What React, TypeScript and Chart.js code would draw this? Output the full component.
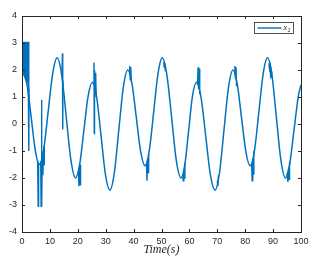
import React, { useEffect, useRef } from "react";
import { Chart, registerables } from "chart.js";

Chart.register(...registerables);

const seriesLabel = "x2";
const xTicks = [0, 10, 20, 30, 40, 50, 60, 70, 80, 90, 100];
const yTicks = [-4, -3, -2, -1, 0, 1, 2, 3, 4];

const mainT = [0.5, 1.9, 3.35, 4.8, 6.2, 7.8, 9.4, 11.0, 12.6, 14.25, 15.9, 17.55, 19.2, 20.7, 22.2, 23.7, 25.2, 26.8, 28.35, 29.9, 31.5, 33.1, 34.7, 36.3, 37.9, 39.45, 41.0, 42.55, 44.1, 45.65, 47.2, 48.75, 50.3, 51.95, 53.65, 55.3, 57.0, 58.4, 59.75, 61.1, 62.5, 64.2, 65.85, 67.5, 69.2, 70.8, 72.4, 74.0, 75.6, 77.15, 78.7, 80.25, 81.8, 83.35, 84.9, 86.45, 88.0, 89.6, 91.2, 92.8, 94.4, 95.95, 97.5, 99.05, 100];
const mainV = [1.9, 1.4, 0.2, -1.0, -1.5, -0.92, 0.48, 1.87, 2.45, 1.8, 0.22, -1.35, -2.0, -1.48, -0.22, 1.03, 1.55, 0.97, -0.45, -1.87, -2.45, -1.8, -0.22, 1.35, 2.0, 1.48, 0.22, -1.03, -1.55, -0.97, 0.45, 1.87, 2.45, 1.8, 0.22, -1.35, -2.0, -1.48, -0.22, 1.03, 1.55, 0.97, -0.45, -1.87, -2.45, -1.8, -0.22, 1.35, 2.0, 1.48, 0.22, -1.03, -1.55, -0.97, 0.45, 1.87, 2.45, 1.8, 0.22, -1.35, -2.0, -1.48, -0.22, 1.03, 1.45];

// chattering bursts; null separates bursts
const chatterT = [
  0, 0, 0.05, 0.3, 0.45, 0.7, 0.85, 1.1, 1.25, 1.5, 1.65, 1.9, 2.05, 2.25, 2.35, 2.45, 2.5, 2.55, 2.55,
  5.6, 5.8, 5.95, 5.95,
  6.7, 6.85, 7.0, 7.1, 7.25, 7.5, 7.7, 7.9, 8.0, 8.0,
  14.3, 14.5, 14.6, 14.7, 14.7,
  20.2, 20.4, 20.6, 20.8, 21.0, 21.0,
  25.6, 25.8, 25.9, 26.0, 26.2, 26.4, 26.6, 26.6,
  38.4, 38.6, 38.8, 39.0, 39.2, 39.2,
  44.6, 44.8, 45.0, 45.2, 45.4, 45.4,
  50.8, 51.0, 51.2, 51.4, 51.4,
  57.6, 57.8, 58.0, 58.2, 58.4, 58.4,
  62.9, 63.1, 63.3, 63.5, 63.7, 63.7,
  70.0, 70.2, 70.4, 70.4,
  76.1, 76.3, 76.5, 76.7, 76.9, 76.9,
  82.3, 82.5, 82.7, 82.9, 83.1, 83.1,
  88.5, 88.7, 88.9, 89.1, 89.3, 89.5, 89.5,
  95.0, 95.3, 95.5, 95.7, 95.9,
];
const chatterV = [
  0, -2.9, 3.05, 1.85, 3.05, 1.8, 3.05, 1.75, 3.05, 1.65, 3.05, 1.55, 3.05, 1.45, 3.05, 1.35, -1.0, 1.3, null,
  -1.35, -3.05, -1.45, null,
  -1.4, -3.05, 0.9, -3.05, -1.2, -1.9, -1.0, -1.5, -0.8, null,
  1.85, 2.62, -0.2, 1.6, null,
  -1.75, -2.3, -1.6, -2.25, -1.5, null,
  1.45, 2.28, -0.35, 2.0, 1.2, 1.9, 1.0, null,
  1.85, 2.15, 1.65, 2.1, 1.55, null,
  -1.45, -2.1, -1.3, -1.8, -1.1, null,
  2.3, 2.1, 2.25, 1.95, null,
  -1.85, -2.1, -1.7, -2.0, -1.45, null,
  1.45, 2.1, 1.3, 2.05, 1.1, null,
  -2.1, -2.3, -1.9, null,
  1.85, 2.15, 1.7, 2.1, 1.4, null,
  -1.45, -2.1, -1.3, -1.85, -1.0, null,
  2.25, 2.05, 2.15, 1.85, 1.95, 1.7, null,
  -1.8, -2.15, -1.65, -2.05, -1.4,
];

const LINE = "#0072BD";
const AX = "#262626";

const framePlugin = {
  id: "frame",
  afterDraw(chart: any) {
    const { ctx, chartArea: a, scales } = chart;
    const xs = scales.x, ys = scales.y;
    ctx.save();
    ctx.strokeStyle = AX;
    ctx.lineWidth = 1;
    ctx.strokeRect(a.left + 0.5, a.top + 0.5, a.right - a.left, a.bottom - a.top);
    const tl = 3;
    ctx.beginPath();
    xTicks.forEach((v) => {
      const p = Math.round(xs.getPixelForValue(v)) + 0.5;
      ctx.moveTo(p, a.bottom); ctx.lineTo(p, a.bottom - tl);
      ctx.moveTo(p, a.top); ctx.lineTo(p, a.top + tl);
    });
    yTicks.forEach((v) => {
      const p = Math.round(ys.getPixelForValue(v)) + 0.5;
      ctx.moveTo(a.left, p); ctx.lineTo(a.left + tl, p);
      ctx.moveTo(a.right, p); ctx.lineTo(a.right - tl, p);
    });
    ctx.stroke();

    // x-axis title
    ctx.fillStyle = AX;
    ctx.font = "italic 12px 'Liberation Serif'";
    ctx.textAlign = "center";
    ctx.textBaseline = "middle";
    ctx.fillText("Time(s)", (a.left + a.right) / 2, 250);

    // legend
    const lx = a.right - 46.5, ly = a.top + 6.5, lw = 39, lh = 11;
    ctx.fillStyle = "#fff";
    ctx.fillRect(lx, ly, lw, lh);
    ctx.strokeStyle = AX;
    ctx.lineWidth = 0.8;
    ctx.strokeRect(lx, ly, lw, lh);
    ctx.strokeStyle = LINE;
    ctx.lineWidth = 1.4;
    ctx.beginPath();
    ctx.moveTo(lx + 3, ly + lh / 2);
    ctx.lineTo(lx + 27, ly + lh / 2);
    ctx.stroke();
    ctx.fillStyle = AX;
    ctx.textAlign = "left";
    ctx.font = "italic 8px 'Liberation Serif'";
    ctx.fillText(seriesLabel.charAt(0), lx + 29, ly + lh / 2);
    ctx.font = "6px 'Liberation Serif'";
    ctx.fillText(seriesLabel.slice(1), lx + 33, ly + lh / 2 + 2);
    ctx.restore();
  },
};

export default function App() {
  const ref = useRef<HTMLCanvasElement | null>(null);
  useEffect(() => {
    if (!ref.current) return;
    const chart = new Chart(ref.current, {
      type: "line",
      data: {
        datasets: [
          {
            label: seriesLabel,
            data: mainT.map((t, i) => ({ x: t, y: mainV[i] })),
            borderColor: LINE,
            borderWidth: 1.5,
            pointRadius: 0,
            cubicInterpolationMode: "monotone",
            fill: false,
          },
          {
            label: "chatter",
            data: chatterT.map((t, i) => ({ x: t, y: chatterV[i] })) as any,
            borderColor: LINE,
            borderWidth: 1.4,
            pointRadius: 0,
            tension: 0,
            spanGaps: false,
            fill: false,
          },
        ],
      },
      options: {
        animation: false,
        responsive: false,
        events: [],
        layout: { padding: { left: 0, right: 21, top: 16, bottom: 0 } },
        plugins: { legend: { display: false }, tooltip: { enabled: false } },
        scales: {
          x: {
            type: "linear",
            min: 0,
            max: 100,
            afterFit: (s: any) => { s.height = 28; },
            afterBuildTicks: (s: any) => { s.ticks = xTicks.map((v) => ({ value: v })); },
            grid: { display: false, drawTicks: false },
            border: { display: false },
            ticks: { color: AX, padding: 4, maxRotation: 0, font: { family: "'Liberation Sans'", size: 9 } },
          },
          y: {
            type: "linear",
            min: -4,
            max: 4,
            afterFit: (s: any) => { s.width = 22; },
            afterBuildTicks: (s: any) => { s.ticks = yTicks.map((v) => ({ value: v })); },
            grid: { display: false, drawTicks: false },
            border: { display: false },
            ticks: { color: AX, padding: 5, font: { family: "'Liberation Sans'", size: 9 } },
          },
        },
      },
      plugins: [framePlugin],
    });
    return () => chart.destroy();
  }, []);
  return (
    <div style={{ position: "fixed", left: 0, top: 0, width: 322, height: 260, background: "#fff" }}>
      <canvas ref={ref} width={322} height={260} style={{ width: 322, height: 260, display: "block" }} />
    </div>
  );
}
